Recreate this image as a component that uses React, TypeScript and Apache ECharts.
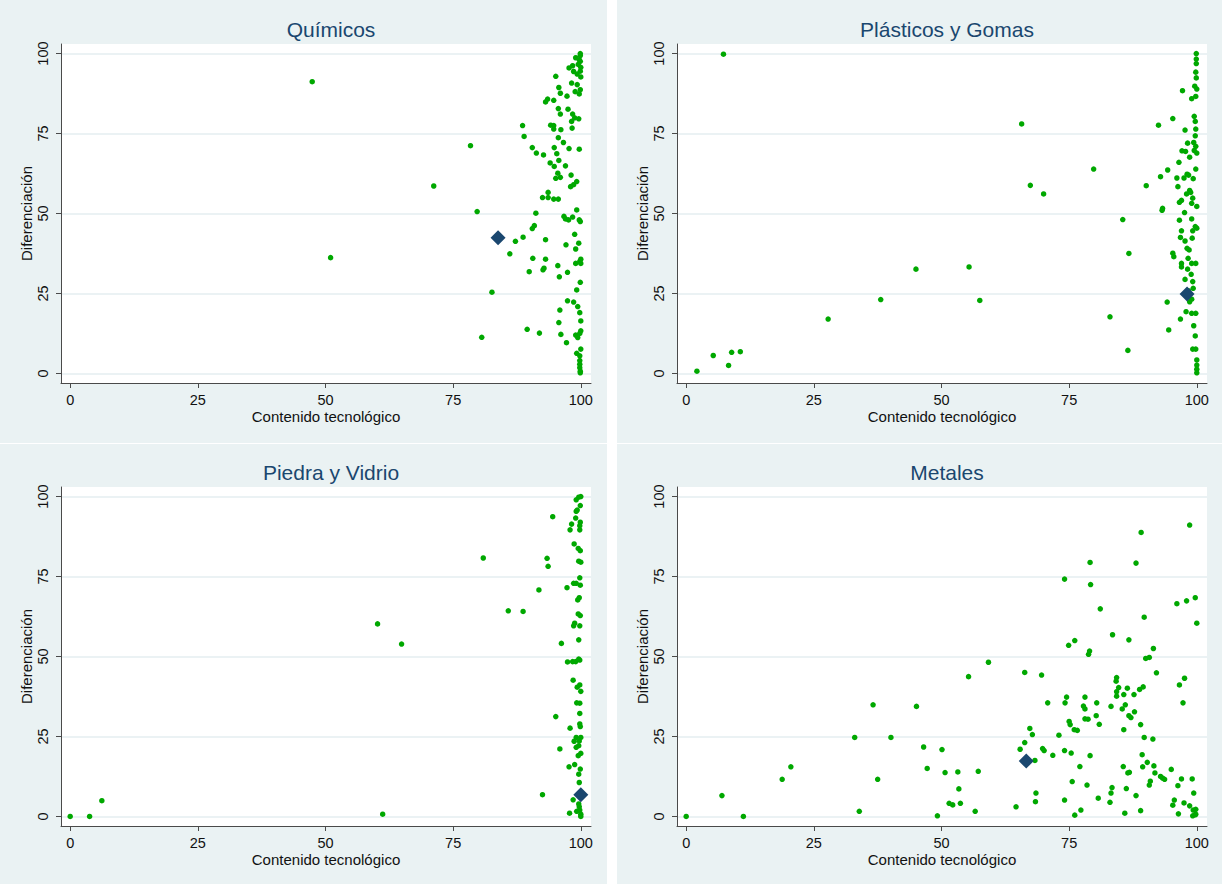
import React, { useEffect, useRef } from "react";
import * as echarts from "echarts";

const panelTitles = ["Químicos", "Plásticos y Gomas", "Piedra y Vidrio", "Metales"];
const xAxisTitle = "Contenido tecnológico";
const yAxisTitle = "Diferenciación";
const tickValues = [0, 25, 50, 75, 100];

const quimicosPoints: number[][] = [
  [47.4, 91.2], [51.0, 36.2], [71.2, 58.6], [78.4, 71.2], [79.7, 50.6], [82.6, 25.4], [80.6, 11.3],
  [86.1, 37.4], [87.2, 41.3], [88.6, 77.5], [88.9, 74.1], [88.7, 42.6], [89.5, 13.8], [89.9, 31.8],
  [90.5, 70.6], [90.6, 36.0], [90.5, 45.3], [90.9, 46.2], [91.2, 50.1], [91.3, 68.9], [91.9, 12.6],
  [92.5, 55.0], [92.7, 68.3], [92.6, 32.4], [92.8, 32.9], [93.1, 84.9], [93.5, 85.8], [93.1, 41.8],
  [93.1, 35.7], [93.6, 56.6], [93.6, 55.0], [94.0, 65.8], [94.1, 77.6], [94.7, 85.4], [94.7, 77.5],
  [94.7, 76.4], [94.8, 70.6], [94.7, 54.5], [94.8, 64.7], [95.1, 92.9], [95.1, 61.0], [95.3, 68.7],
  [95.5, 62.6], [95.6, 54.5], [95.5, 33.7], [95.7, 89.4], [95.6, 82.8], [95.6, 73.7], [95.7, 66.6],
  [95.7, 15.9], [95.9, 19.8], [95.8, 30.2], [96.0, 87.6], [96.0, 81.1], [96.0, 61.3], [96.1, 76.2],
  [96.1, 12.2], [96.6, 72.2], [96.7, 49.1], [97.0, 64.9], [97.1, 40.2], [97.2, 9.6], [97.3, 86.7],
  [97.0, 48.3], [97.4, 22.7], [97.4, 31.6], [97.5, 82.6], [97.6, 48.0], [97.7, 70.3], [97.7, 95.5],
  [98.0, 58.4], [98.1, 62.0], [98.2, 78.8], [98.3, 76.7], [98.2, 90.8], [98.4, 48.9], [98.4, 81.1],
  [98.6, 59.0], [98.6, 22.3], [98.6, 94.4], [98.8, 43.5], [98.8, 79.9], [99.0, 38.9], [99.0, 12.0],
  [99.0, 98.7], [99.0, 34.4], [99.2, 51.1], [99.2, 60.0], [99.2, 26.1], [99.2, 6.3], [99.3, 90.3],
  [99.4, 11.2], [99.4, 20.9], [99.5, 96.6], [99.6, 79.6], [99.6, 40.7], [99.7, 70.1], [99.7, 87.4],
  [99.7, 48.0], [99.8, 35.0], [99.8, 19.0], [99.8, 12.5], [99.8, 5.5], [99.8, 4.0], [99.8, 2.9],
  [99.8, 1.8], [99.9, 0.7], [99.9, 0.2], [99.9, 100], [99.9, 99.4], [99.9, 97.6], [99.9, 94.5],
  [99.9, 88.7], [99.9, 47.5], [99.9, 28.5], [100, 16.4], [100, 13.3], [100, 7.6], [100, 35.7],
  [100, 34.4], [100, 95.7], [100, 92.7], [99.7, 98.1], [98.4, 96.2], [99.3, 93.6], [98.9, 88.1],
];

const plasticosPoints: number[][] = [
  [7.3, 99.8], [2.1, 0.7], [5.3, 5.6], [8.3, 2.5], [8.9, 6.6], [10.6, 6.8], [27.8, 17.0], [38.1, 23.1],
  [45.0, 32.6], [55.4, 33.3], [57.5, 22.8], [65.7, 78.0], [67.4, 58.8], [70.0, 56.1], [79.8, 63.9],
  [83.0, 17.7], [85.5, 48.1], [86.7, 37.5], [86.5, 7.2], [90.1, 58.7], [92.5, 77.6], [92.9, 61.5],
  [93.2, 51.0], [93.3, 51.6], [94.2, 22.3], [94.3, 63.6], [94.5, 13.6], [95.3, 79.7], [95.3, 37.6],
  [95.5, 36.5], [96.1, 61.1], [96.3, 58.4], [96.5, 66.0], [96.6, 47.9], [96.6, 53.5], [96.8, 42.5],
  [96.8, 17.0], [97.0, 54.1], [97.0, 44.6], [97.1, 69.6], [97.0, 34.4], [97.0, 33.3], [97.2, 88.4],
  [97.5, 61.1], [97.6, 50.3], [97.7, 76.1], [97.7, 41.4], [97.7, 29.4], [97.8, 69.4], [97.9, 19.3],
  [98.0, 56.1], [98.1, 62.3], [98.1, 39.1], [98.2, 72.0], [98.2, 32.6], [98.3, 36.0], [98.4, 62.0],
  [98.5, 38.6], [98.6, 57.2], [98.6, 67.6], [98.6, 22.4], [98.8, 56.6], [98.9, 31.0], [99.0, 53.2],
  [99.0, 85.9], [99.0, 48.3], [99.0, 34.4], [99.0, 18.8], [99.1, 42.3], [99.2, 28.7], [99.2, 7.6],
  [99.2, 44.6], [99.2, 54.8], [99.3, 60.9], [99.3, 26.6], [99.4, 14.9], [99.4, 72.2], [99.5, 80.4],
  [99.5, 69.7], [99.6, 89.8], [99.7, 74.3], [99.7, 11.7], [99.7, 45.9], [99.7, 78.8], [99.8, 63.9],
  [99.8, 34.4], [99.8, 18.8], [99.8, 7.6], [99.8, 76.4], [99.8, 86.6], [99.8, 71.0], [99.8, 94.2],
  [99.9, 92.4], [99.9, 98.3], [99.9, 96.9], [99.9, 100], [100, 68.9], [100, 4.2], [100, 2.6],
  [100, 1.3], [100, 0.2], [100, 88.9], [100, 45.4], [100, 52.2], [98.4, 25.8], [99.0, 23.2],
];

const piedraPoints: number[][] = [
  [0, 0], [3.8, 0], [6.2, 4.9], [60.2, 60.2], [61.2, 0.7], [64.9, 53.9], [80.9, 80.8], [85.8, 64.3],
  [88.7, 64.1], [91.8, 70.8], [92.5, 6.8], [93.4, 80.7], [93.6, 78.2], [94.5, 93.7], [95.1, 31.2],
  [95.9, 21.1], [96.2, 54.1], [97.3, 71.5], [97.4, 48.3], [97.7, 15.5], [97.8, 1.0], [97.9, 89.6],
  [97.9, 27.6], [98.2, 91.4], [98.4, 48.4], [98.5, 5.2], [98.5, 42.6], [98.6, 59.6], [98.6, 72.9],
  [98.7, 85.2], [98.7, 23.5], [98.8, 16.2], [98.8, 60.4], [99.0, 48.4], [99.0, 93.3], [99.1, 21.6],
  [99.1, 24.7], [99.1, 72.9], [99.1, 95.4], [99.1, 99.0], [99.2, 1.6], [99.2, 35.5], [99.3, 40.4],
  [99.4, 67.7], [99.5, 83.8], [99.5, 63.3], [99.5, 19.0], [99.6, 22.1], [99.6, 49.2], [99.6, 79.8],
  [99.6, 55.2], [99.6, 99.8], [99.6, 13.2], [99.6, 3.9], [99.7, 68.4], [99.7, 23.6], [99.7, 10.6],
  [99.8, 89.6], [99.8, 41.1], [99.8, 32.2], [99.8, 28.9], [99.8, 74.6], [99.8, 90.9], [99.8, 59.6],
  [99.8, 48.9], [99.8, 35.4], [99.8, 2.0], [99.9, 83.1], [99.9, 97.2], [99.9, 62.8], [99.9, 72.3],
  [99.9, 14.8], [99.9, 28.1], [100, 0], [100, 0.7], [100, 100], [100, 79.5], [100, 39.1], [100, 19.7],
  [100, 24.7], [99.3, 95.8], [99.9, 92.0], [99.7, 3.0],
];

const metalesPoints: number[][] = [
  [0, 0], [7.0, 6.5], [11.2, 0], [18.8, 11.6], [20.5, 15.5], [33.0, 24.7], [33.9, 1.6], [36.6, 34.9],
  [37.5, 11.6], [40.1, 24.7], [45.1, 34.4], [46.5, 21.7], [47.2, 15.0], [49.2, 0.2], [50.1, 20.9],
  [50.7, 13.7], [51.5, 4.1], [52.2, 3.6], [53.2, 13.9], [53.4, 8.6], [53.7, 4.1], [55.3, 43.7],
  [56.6, 1.6], [57.2, 14.1], [59.2, 48.2], [64.6, 3.0], [65.4, 21.0], [66.3, 45.0], [66.3, 23.1],
  [67.3, 27.5], [67.8, 25.6], [68.3, 17.5], [68.5, 7.3], [68.4, 4.6], [69.6, 44.2], [69.8, 21.2],
  [70.1, 20.6], [70.8, 35.5], [71.8, 19.1], [73.0, 25.4], [74.1, 74.2], [74.1, 20.6], [74.1, 5.1],
  [74.2, 35.5], [74.5, 37.3], [74.9, 53.5], [75.0, 29.7], [75.2, 28.7], [75.4, 19.8], [75.6, 10.9],
  [76.0, 27.1], [76.1, 55.0], [76.1, 0.4], [76.6, 26.9], [77.1, 15.6], [77.3, 2.0], [77.8, 34.5],
  [78.1, 37.3], [78.1, 33.6], [78.1, 30.5], [78.5, 9.8], [78.7, 30.4], [78.8, 50.7], [79.0, 51.7],
  [79.1, 79.4], [79.2, 72.5], [79.1, 19.0], [80.4, 35.5], [80.3, 31.5], [80.7, 5.7], [80.9, 28.8],
  [81.1, 64.9], [83.0, 4.4], [83.2, 34.4], [83.2, 7.3], [83.4, 9.0], [83.5, 56.8], [84.2, 42.3],
  [84.3, 43.4], [84.3, 39.0], [84.3, 37.6], [84.7, 40.3], [85.4, 33.6], [85.6, 15.6], [85.7, 38.1],
  [85.7, 27.1], [85.9, 1.0], [86.0, 34.9], [86.2, 8.7], [86.4, 40.1], [86.5, 13.6], [86.7, 55.2],
  [86.7, 31.5], [86.8, 13.8], [87.1, 30.9], [87.7, 38.1], [87.8, 32.7], [88.1, 6.5], [88.1, 79.2],
  [88.8, 39.7], [89.0, 28.7], [89.0, 1.8], [89.1, 88.8], [89.3, 19.3], [89.4, 15.5], [89.5, 40.5],
  [89.7, 62.3], [89.7, 24.7], [90.0, 49.4], [90.3, 16.9], [90.7, 49.7], [90.7, 9.8], [90.9, 11.0],
  [91.4, 24.2], [91.5, 52.5], [91.6, 15.8], [91.8, 13.6], [92.1, 44.9], [92.9, 12.5], [93.3, 12.0],
  [93.7, 11.6], [95.0, 14.7], [95.3, 3.5], [95.6, 5.1], [96.1, 66.5], [96.4, 0.8], [96.3, 9.6],
  [96.6, 41.1], [97.0, 11.7], [97.3, 35.5], [97.5, 4.2], [97.6, 43.2], [98.0, 67.4], [98.6, 91.1],
  [98.6, 3.3], [99.1, 11.7], [99.2, 0.2], [99.3, 2.0], [99.4, 7.3], [99.7, 68.4], [99.7, 0.5],
  [99.8, 2.2], [99.8, 0.7], [100, 60.4],
];

const meanPoints: number[][] = [
  [83.8, 42.4],
  [98.1, 24.8],
  [100, 6.8],
  [66.6, 17.3],
];

const allPoints = [quimicosPoints, plasticosPoints, piedraPoints, metalesPoints];

const FONT = "'Liberation Sans', Arial, Helvetica, sans-serif";
const BG = "#eaf2f3";
const NAVY = "#1a476f";
const GREEN = "#00a800";
const AXIS = "#4a4a4a";

const gridRects = [
  { left: 61, top: 44 },
  { left: 677, top: 44 },
  { left: 61, top: 487 },
  { left: 677, top: 487 },
];
const GW = 530;
const GH = 339;

export default function App() {
  const ref = useRef<HTMLDivElement>(null);
  useEffect(() => {
    if (!ref.current) return;
    const chart = echarts.init(ref.current, null, { renderer: "svg" });
    const grids = gridRects.map((g) => ({
      left: g.left,
      top: g.top,
      width: GW,
      height: GH,
      show: true,
      backgroundColor: "#ffffff",
      borderWidth: 0,
    }));
    const xAxes = gridRects.map((_, i) => ({
      type: "value",
      gridIndex: i,
      min: -1.8,
      max: 102,
      name: xAxisTitle,
      nameLocation: "middle",
      nameGap: 26,
      nameTextStyle: { fontFamily: FONT, fontSize: 15, color: "#111" },
      axisLine: { show: true, onZero: false, lineStyle: { color: AXIS, width: 1 } },
      axisTick: { show: true, length: 5, customValues: tickValues, lineStyle: { color: AXIS } },
      axisLabel: {
        customValues: tickValues,
        margin: 9,
        fontFamily: FONT,
        fontSize: 14.5,
        color: "#111",
      },
      splitLine: { show: false },
    }));
    const yAxes = gridRects.map((_, i) => ({
      type: "value",
      gridIndex: i,
      min: -3,
      max: 103,
      name: yAxisTitle,
      nameLocation: "middle",
      nameGap: 27,
      nameTextStyle: { fontFamily: FONT, fontSize: 15, color: "#111" },
      axisLine: { show: true, onZero: false, lineStyle: { color: AXIS, width: 1 } },
      axisTick: { show: true, length: 5, customValues: tickValues, lineStyle: { color: AXIS } },
      axisLabel: {
        customValues: tickValues,
        rotate: 90,
        margin: 11,
        fontFamily: FONT,
        fontSize: 14.5,
        color: "#111",
      },
      splitLine: { show: true, lineStyle: { color: "#e4eef0", width: 1.5 } },
    }));
    const series: any[] = [];
    allPoints.forEach((pts, i) => {
      series.push({
        type: "scatter",
        xAxisIndex: i,
        yAxisIndex: i,
        data: pts,
        symbol: "circle",
        symbolSize: 5.5,
        itemStyle: { color: GREEN, opacity: 1 },
        z: 3,
      });
    });
    meanPoints.forEach((p, i) => {
      series.push({
        type: "scatter",
        xAxisIndex: i,
        yAxisIndex: i,
        data: [p],
        symbol: "diamond",
        symbolSize: 15,
        itemStyle: { color: NAVY, opacity: 1 },
        z: 4,
      });
    });
    const titles = gridRects.map((g, i) => ({
      text: panelTitles[i],
      left: g.left + GW / 2,
      top: g.top - 30,
      textAlign: "center",
      textStyle: { fontFamily: FONT, fontSize: 21, fontWeight: "normal", color: NAVY },
    }));
    chart.setOption({
      animation: false,
      backgroundColor: "#ffffff",
      title: titles,
      graphic: [
        { type: "rect", shape: { x: 0, y: 0, width: 607, height: 443 }, style: { fill: BG }, z: -10, silent: true },
        { type: "rect", shape: { x: 617, y: 0, width: 605, height: 443 }, style: { fill: BG }, z: -10, silent: true },
        { type: "rect", shape: { x: 0, y: 444, width: 607, height: 440 }, style: { fill: BG }, z: -10, silent: true },
        { type: "rect", shape: { x: 617, y: 444, width: 605, height: 440 }, style: { fill: BG }, z: -10, silent: true },
      ],
      grid: grids,
      xAxis: xAxes,
      yAxis: yAxes,
      series,
    });
    return () => chart.dispose();
  }, []);
  return (
    <div
      ref={ref}
      style={{ position: "absolute", left: 0, top: 0, width: 1222, height: 884 }}
    />
  );
}
